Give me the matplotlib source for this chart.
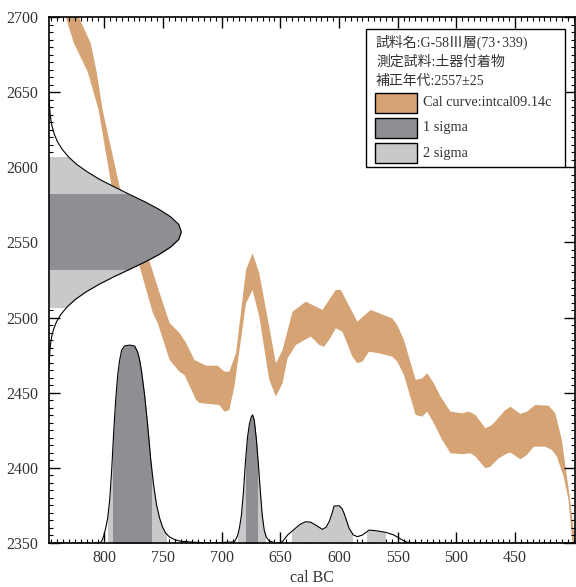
import numpy as np
import matplotlib
matplotlib.use("Agg")
import matplotlib.pyplot as plt
from matplotlib.patches import Rectangle

# calibration curve band (intcal09), upper and lower edges, cal BC vs 14C BP
upper_yr = [847, 821.7, 811.5, 806.4, 801.3, 786.8, 761.3, 752.8, 744.3, 735.9, 730.2, 723.1,
            713.2, 703.3, 697.6, 693.4, 687.7, 679.2, 673.6, 667.9, 653.7, 648.1, 639.6, 628.2,
            614.1, 602.7, 598.5, 584.4, 573.0, 565.9, 554.6, 550.4, 544.7, 534.7, 529.1, 524.9,
            519.2, 513.5, 505.0, 495.2, 489.5, 483.8, 475.3, 469.7, 458.3, 454.0, 445.6, 439.9,
            432.8, 421.5, 415.8, 410.2, 403.1, 399.0]
upper_val = [2743, 2700, 2682.7, 2663.4, 2638.1, 2586.9, 2537.2, 2516.4, 2496.4, 2489.8, 2483.1, 2471.8,
             2468.0, 2468.0, 2464.0, 2464.0, 2476.4, 2531.7, 2542.8, 2529.5, 2469.6, 2478.4, 2503.9, 2510.6,
             2505.1, 2518.4, 2518.4, 2497.3, 2505.1, 2502.9, 2499.5, 2495.1, 2485.1, 2458.5, 2459.6, 2462.9,
             2456.3, 2447.4, 2437.4, 2436.3, 2437.4, 2435.2, 2426.3, 2428.5, 2438.5, 2440.7, 2435.9, 2437.4,
             2441.8, 2441.4, 2436.3, 2418.6, 2378.6, 2350]
lower_yr = [847, 832.7, 825.9, 814.0, 804.7, 793.6, 769.8, 758.5, 754.3, 744.3, 735.9, 731.6,
            721.7, 718.9, 701.9, 697.6, 693.4, 689.1, 679.2, 673.6, 667.9, 659.4, 653.7, 648.1,
            643.8, 636.7, 626.8, 623.9, 616.9, 612.7, 608.4, 602.7, 597.1, 588.6, 584.4, 580.1,
            574.4, 565.9, 554.6, 550.4, 544.7, 534.7, 529.1, 524.9, 519.2, 512.1, 505.0, 495.2,
            488.0, 483.8, 475.3, 471.0, 464.0, 455.5, 452.7, 445.6, 439.9, 434.2, 424.3, 418.7,
            414.4, 408.7, 404.5, 401.1, 399.0]
lower_val = [2736, 2700, 2682.7, 2663.4, 2638.1, 2586.9, 2533.9, 2502.9, 2496.2, 2471.8, 2464.0, 2461.8,
             2445.2, 2443.2, 2441.8, 2437.4, 2438.5, 2454.0, 2509.5, 2518.4, 2500.6, 2458.5, 2447.4, 2456.3,
             2472.9, 2481.8, 2486.2, 2487.3, 2481.8, 2480.6, 2485.1, 2492.9, 2490.6, 2474.0, 2469.6, 2470.7,
             2477.3, 2476.2, 2474.0, 2470.7, 2461.8, 2435.2, 2434.1, 2437.4, 2429.7, 2418.6, 2409.7, 2409.1,
             2409.7, 2407.5, 2399.7, 2400.8, 2406.4, 2410.1, 2409.7, 2405.7, 2408.6, 2414.1, 2414.1, 2411.9,
             2407.5, 2394.2, 2378.6, 2350, 2338]

# measured 14C age distribution (2557 +/- 25), width in years from the left axis
c14_val = [2467, 2472, 2477, 2482, 2487, 2492, 2497, 2502, 2507, 2512, 2517, 2522, 2527, 2532, 2537,
           2542, 2547, 2552, 2557, 2562, 2567, 2572, 2577, 2582, 2587, 2592, 2597, 2602, 2607, 2612,
           2617, 2622, 2627, 2632, 2637, 2642, 2647]
c14_w = [0.1, 0.35, 0.65, 1.25, 2.2, 3.8, 6.3, 10.0, 15.3, 22.3, 31.4, 42.3, 54.9, 68.4, 81.8,
         93.8, 103.7, 110.5, 112.7, 110.5, 103.7, 93.8, 81.8, 68.4, 55.5, 43.0, 32.5, 23.5, 16.5, 11.2,
         7.2, 4.5, 2.7, 1.5, 0.8, 0.3, 0.1]
c14_1s = (2532, 2582)
c14_2s = (2507, 2607)

# calibrated probability (height above axis in 14C units)
prob_yr = [847, 803.8, 802.1, 800.4, 798.7, 797.0, 795.3, 793.6, 791.9, 790.2, 788.5, 786.8,
           785.1, 782.6, 778.3, 774.1, 771.5, 769.8, 768.1, 765.6, 763.0, 760.5, 757.9, 755.4,
           752.8, 750.3, 747.7, 744.4, 740.1, 735.9, 727.4, 710.4,
           689.1, 686.5, 684.8, 683.1, 681.4, 679.7, 678.0, 676.3, 674.6, 673.6, 672.2, 670.5,
           668.8, 667.1, 665.4, 663.7, 662.0, 659.4, 655.2, 651.0,
           648.2, 643.8, 638.2, 633.0, 628.2, 624.0, 619.0, 614.1, 611.0, 608.4, 606.0, 604.2,
           599.9, 597.5, 595.7, 593.6, 591.4, 588.0, 584.4, 580.1, 574.4, 568.7, 560.2, 553.2,
           546.1, 541.9, 532.0, 399]
prob_h = [0, 0, 1.3, 4.7, 10.0, 16.6, 28.6, 48.6, 73.9, 95.1, 111.8, 121.8,
          128.4, 131.1, 131.7, 131.1, 127.1, 121.8, 113.8, 98.5, 78.5, 56.6, 38.6, 25.3,
          16.6, 10.6, 6.7, 4.0, 2.3, 1.3, 0.7, 0,
          0.7, 4.7, 10.0, 18.6, 33.9, 53.9, 69.9, 79.2, 84.2, 85.2, 81.8, 69.9,
          53.9, 35.3, 18.6, 8.6, 4.0, 1.3, 0.3, 0,
          0.9, 5.3, 9.1, 12.5, 14.2, 13.8, 11.5, 9.1, 10.5, 14.2, 19.5, 24.6,
          24.8, 23.0, 19.8, 15.0, 9.8, 5.5, 4.2, 5.3, 8.6, 8.2, 7.1, 5.3,
          2.0, 0.5, 0, 0]
one_sigma = [(792.3, 760.3), (679.0, 670.2)]
two_sigma = [(796.7, 747.2), (686.1, 662.9), (639.8, 588.9), (576.1, 560.8)]

legend_lines = ["試料名:G-58Ⅲ層(73･339)", "測定試料:土器付着物", "補正年代:2557±25"]
legend_labels = ["Cal curve:intcal09.14c", "1 sigma", "2 sigma"]

c_curve = "#d6a474"
c_dark = "#8e8f93"
c_light = "#c8c9cb"
serif = ["Liberation Serif", "Noto Sans CJK JP"]

plt.rcParams["font.family"] = serif

fig = plt.figure(figsize=(5.76, 5.87), dpi=100)
ax = fig.add_axes([49 / 576, 44 / 587, 526 / 576, 526 / 587])

xmin, xmax = 847, 399
ybase = 2350

# calibration curve
ax.fill(upper_yr + lower_yr[::-1], upper_val + lower_val[::-1], color=c_curve, lw=0, zorder=1)

# 14C age distribution on y axis
c14_x = [xmin - w for w in c14_w]
for (lo, hi), col in [(c14_2s, c_light), (c14_1s, c_dark)]:
    poly = ax.fill_betweenx(c14_val, xmin, c14_x, color=col, lw=0, zorder=2)
    clip = Rectangle((xmax, lo), xmin - xmax, hi - lo, transform=ax.transData)
    poly.set_clip_path(clip)
ax.plot(c14_x, c14_val, color="black", lw=0.8, zorder=3)

# calibrated distribution on x axis
prob_top = [ybase + h for h in prob_h]
for ranges, col in [(two_sigma, c_light), (one_sigma, c_dark)]:
    for a, b in ranges:
        poly = ax.fill_between(prob_yr, ybase, prob_top, color=col, lw=0, zorder=2)
        clip = Rectangle((b, ybase - 10), a - b, 400, transform=ax.transData)
        poly.set_clip_path(clip)
ax.plot(prob_yr, prob_top, color="black", lw=0.8, zorder=3)

ax.set_xlim(xmin, xmax)
ax.set_ylim(2350, 2700)
ax.set_xticks([800, 750, 700, 650, 600, 550, 500, 450])
ax.set_yticks([2350, 2400, 2450, 2500, 2550, 2600, 2650, 2700])
ax.set_xticks(np.arange(845, 399, -5), minor=True)
ax.set_yticks(np.arange(2350, 2701, 5), minor=True)
ax.tick_params(which="both", direction="in", top=True, right=True, labelsize=11.5, colors="black")
ax.tick_params(which="major", length=8, width=1.0)
ax.tick_params(which="minor", length=3, width=0.8)
ax.tick_params(axis="y", pad=8)
ax.tick_params(axis="x", pad=5)
for lab in ax.get_xticklabels() + ax.get_yticklabels():
    lab.set_color("#333333")
for s in ax.spines.values():
    s.set_linewidth(1.2)
    s.set_zorder(5)
ax.set_xlabel("cal BC", fontsize=11.5, color="#333333", labelpad=3)

# legend box built by hand
def fx(px):
    return (px - 49) / 526

def fy(py):
    return (543 - py) / 526

ax.add_patch(Rectangle((fx(366), fy(166.7)), fx(565) - fx(366), fy(29.3) - fy(166.7),
                       transform=ax.transAxes, facecolor="white", edgecolor="black", lw=1.0, zorder=6))
for txt, py in zip(legend_lines, [42.5, 62.0, 81.5]):
    ax.text(fx(376), fy(py), txt, transform=ax.transAxes, fontsize=10, va="center", ha="left",
            color="#333333", family=serif, zorder=7)
for lab, col, py in zip(legend_labels, [c_curve, c_dark, c_light], [113.3, 138.3, 163.3]):
    ax.add_patch(Rectangle((fx(375), fy(py)), fx(417.3) - fx(375), 20.6 / 526,
                           transform=ax.transAxes, facecolor=col, edgecolor="black", lw=1.0, zorder=7))
    ax.text(fx(423.3), fy(py - 10.3), lab, transform=ax.transAxes, fontsize=10.3, va="center",
            ha="left", color="#333333", family=serif, zorder=7)

fig.savefig("out.png", dpi=100)
